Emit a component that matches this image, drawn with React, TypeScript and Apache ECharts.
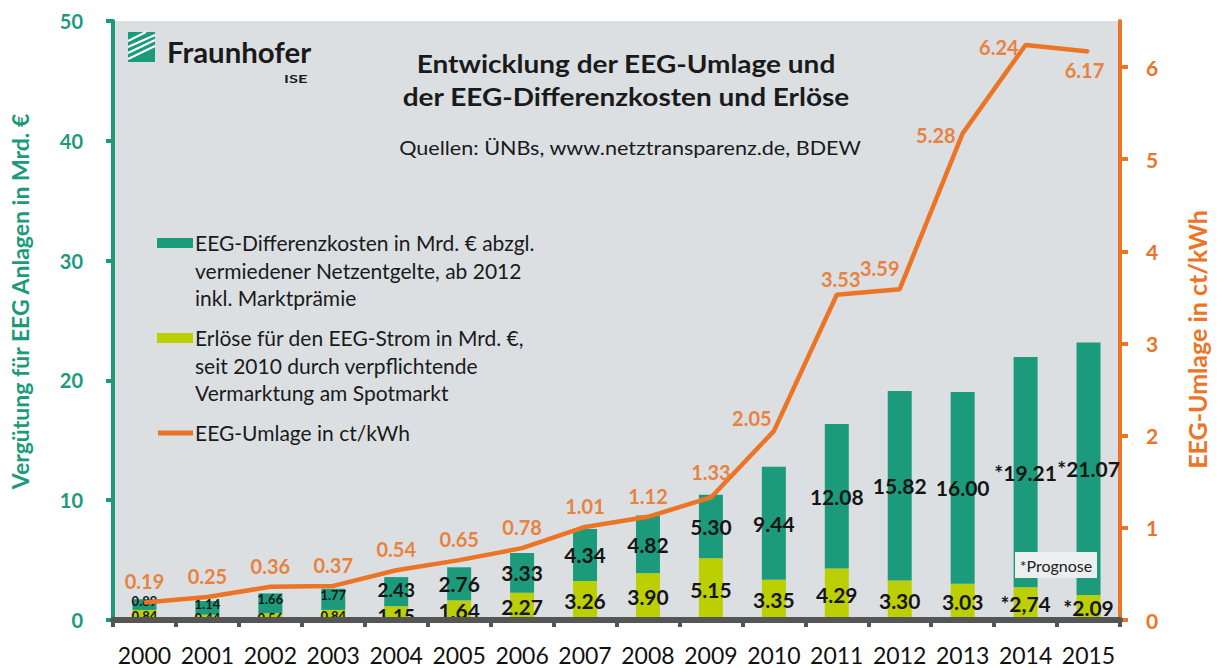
import React, { useEffect, useRef } from "react";
import * as echarts from "echarts";

const years = ["2000","2001","2002","2003","2004","2005","2006","2007","2008","2009","2010","2011","2012","2013","2014","2015"];
const diffKosten = [0.89,1.14,1.66,1.77,2.43,2.76,3.33,4.34,4.82,5.30,9.44,12.08,15.82,16.00,19.21,21.07];
const erloese = [0.84,0.44,0.56,0.84,1.15,1.64,2.27,3.26,3.90,5.15,3.35,4.29,3.30,3.03,2.74,2.09];
const umlage = [0.19,0.25,0.36,0.37,0.54,0.65,0.78,1.01,1.12,1.33,2.05,3.53,3.59,5.28,6.24,6.17];
const diffLabels = ["0.89","1.14","1.66","1.77","2.43","2.76","3.33","4.34","4.82","5.30","9.44","12.08","15.82","16.00","*19.21","*21.07"];
const erloeseLabels = ["0.84","0.44","0.56","0.84","1.15","1.64","2.27","3.26","3.90","5.15","3.35","4.29","3.30","3.03","*2,74","*2.09"];
const leftTicks = [0, 10, 20, 30, 40, 50];
const rightTicks = [0, 1, 2, 3, 4, 5, 6];

const TEAL = "#1b9b7b";
const LIME = "#bccf03";
const ORANGE = "#ec7424";
const ORANGE_LBL = "#e8823f";
const FONT = "Lato, 'Open Sans', sans-serif";

export default function App() {
  const ref = useRef<HTMLDivElement>(null);
  useEffect(() => {
    if (!ref.current) return;
    const chart = echarts.init(ref.current, null, { renderer: "svg" });
    const lineLabelPos = (i: number): any => {
      if (i === 9) return { position: "top", distance: 14 };
      if (i === 10) return { position: "top", distance: 2, offset: [-22, 0] };
      if (i === 11) return { position: "top", distance: 5, offset: [4, 0] };
      if (i === 13 || i === 14) return { position: "left", distance: 6, offset: [0, 2] };
      if (i === 15) return { position: "bottom", distance: 8, offset: [-4, 0] };
      if (i === 12) return { position: "top", distance: 10, offset: [-20, 0] };
      return { position: "top", distance: 10 };
    };
    const barFont = (i: number) => (i < 4 ? 13 : i === 4 ? 19 : 21);
    const option: any = {
      animation: false,
      textStyle: { fontFamily: FONT },
      grid: {
        left: 113, right: 96, top: 21, height: 599,
        show: true, backgroundColor: "#dcdfe2", borderWidth: 0,
      },
      xAxis: {
        type: "category",
        data: years,
        boundaryGap: true,
        axisLine: { show: true, lineStyle: { color: "#555555", width: 6 } },
        axisTick: { show: true, length: 7, interval: 0, lineStyle: { color: "#555555", width: 4 } },
        axisLabel: { color: "#111", fontSize: 23, fontFamily: FONT, margin: 23, interval: 0 },
        z: 5,
      },
      yAxis: [
        {
          type: "value", position: "left", min: 0, max: 50, interval: 10,
          name: "Vergütung für EEG Anlagen in Mrd. €",
          nameLocation: "middle", nameGap: 82, nameRotate: 90,
          nameTextStyle: { color: TEAL, fontSize: 23, fontWeight: "bold", fontFamily: FONT, padding: [0, 0, 0, 38] },
          axisLine: { show: true, lineStyle: { color: TEAL, width: 4 } },
          axisTick: { show: true, length: 7, lineStyle: { color: TEAL, width: 4 }, customValues: leftTicks },
          axisLabel: { color: TEAL, fontSize: 20, fontWeight: "bold", margin: 30, fontFamily: FONT, customValues: leftTicks },
          splitLine: { show: false },
        },
        {
          type: "value", position: "right", min: 0, max: 6.5, interval: 1,
          name: "EEG-Umlage in ct/kWh",
          nameLocation: "middle", nameGap: 64, nameRotate: 90,
          nameTextStyle: { color: ORANGE, fontSize: 25, fontWeight: "bold", fontFamily: FONT, padding: [0, 38, 0, 0] },
          axisLine: { show: true, lineStyle: { color: ORANGE, width: 4 } },
          axisTick: { show: true, length: 8, lineStyle: { color: ORANGE, width: 4 }, customValues: rightTicks },
          axisLabel: { color: ORANGE, fontSize: 21, fontWeight: "bold", margin: 26, fontFamily: FONT, customValues: rightTicks },
          splitLine: { show: false },
        },
      ],
      series: [
        {
          name: "Erlöse",
          type: "bar", stack: "eeg", yAxisIndex: 0, barWidth: 24,
          itemStyle: { color: LIME },
          data: erloese.map((v, i) => ({
            value: v,
            label: {
              show: true, position: "inside",
              formatter: () => erloeseLabels[i],
              color: "#151515", fontWeight: "bold", fontFamily: FONT,
              fontSize: barFont(i),
              offset: i < 4 ? [0, 1] : i === 4 ? [0, 2] : [0, 0],
            },
          })),
        },
        {
          name: "Differenzkosten",
          type: "bar", stack: "eeg", yAxisIndex: 0, barWidth: 24,
          itemStyle: { color: TEAL },
          data: diffKosten.map((v, i) => ({
            value: v,
            label: {
              show: true, position: "inside",
              formatter: () => diffLabels[i],
              color: "#151515", fontWeight: "bold", fontFamily: FONT,
              fontSize: barFont(i),
              offset: i < 4 ? [0, -4] : i === 4 ? [0, -2] : [0, 0],
            },
          })),
        },
        {
          name: "EEG-Umlage",
          type: "line", yAxisIndex: 1,
          symbol: "circle", symbolSize: 2, showSymbol: true,
          lineStyle: { color: ORANGE, width: 4.5 },
          itemStyle: { color: ORANGE },
          z: 4,
          data: umlage.map((v, i) => ({
            value: v,
            label: {
              show: true,
              formatter: () => v.toFixed(2),
              color: ORANGE_LBL, fontWeight: "bold", fontSize: 20, fontFamily: FONT,
              ...lineLabelPos(i),
            },
          })),
        },
      ],
      graphic: [
        // Fraunhofer logo
        { type: "rect", shape: { x: 128, y: 32, width: 27, height: 30 }, style: { fill: TEAL }, z: 10 },
        { type: "line", shape: { x1: 128, y1: 59, x2: 155, y2: 46 }, style: { stroke: "#fff", lineWidth: 2 }, z: 11 },
        { type: "line", shape: { x1: 128, y1: 53, x2: 155, y2: 40 }, style: { stroke: "#fff", lineWidth: 2 }, z: 11 },
        { type: "line", shape: { x1: 128, y1: 47, x2: 155, y2: 35 }, style: { stroke: "#fff", lineWidth: 2 }, z: 11 },
        { type: "line", shape: { x1: 128, y1: 41, x2: 146, y2: 32 }, style: { stroke: "#fff", lineWidth: 2 }, z: 11 },
        { type: "text", x: 167, y: 52, scaleX: 1.05, style: { text: "Fraunhofer", font: `bold 28px ${FONT}`, fill: "#1a1a1a", verticalAlign: "middle" }, z: 10 },
        { type: "text", x: 284, y: 79, scaleX: 1.5, style: { text: "ISE", font: `bold 11px ${FONT}`, fill: "#1a1a1a", verticalAlign: "middle" }, z: 10 },
        // Title
        { type: "text", x: 626, y: 64, scaleX: 1.12, style: { text: "Entwicklung der EEG-Umlage und", font: `bold 25px ${FONT}`, fill: "#1a1a1a", align: "center", verticalAlign: "middle" }, z: 10 },
        { type: "text", x: 626, y: 97, scaleX: 1.12, style: { text: "der EEG-Differenzkosten und Erlöse", font: `bold 25px ${FONT}`, fill: "#1a1a1a", align: "center", verticalAlign: "middle" }, z: 10 },
        { type: "text", x: 630, y: 147, scaleX: 1.08, style: { text: "Quellen: ÜNBs, www.netztransparenz.de, BDEW", font: `20px ${FONT}`, fill: "#1a1a1a", align: "center", verticalAlign: "middle" }, z: 10 },
        // Legend
        { type: "rect", shape: { x: 157, y: 238, width: 36, height: 10 }, style: { fill: TEAL }, z: 10 },
        { type: "text", x: 195, y: 229, style: { text: "EEG-Differenzkosten in Mrd. € abzgl.\nvermiedener Netzentgelte, ab 2012\ninkl. Marktprämie", font: `21px ${FONT}`, lineHeight: 27.5, fill: "#1a1a1a" }, z: 10 },
        { type: "rect", shape: { x: 157, y: 333, width: 36, height: 10 }, style: { fill: LIME }, z: 10 },
        { type: "text", x: 195, y: 324, style: { text: "Erlöse für den EEG-Strom in Mrd. €,\nseit 2010 durch verpflichtende\nVermarktung am Spotmarkt", font: `21px ${FONT}`, lineHeight: 27.5, fill: "#1a1a1a" }, z: 10 },
        { type: "line", shape: { x1: 158, y1: 433, x2: 193, y2: 433 }, style: { stroke: ORANGE, lineWidth: 5 }, z: 10 },
        { type: "text", x: 195, y: 419, style: { text: "EEG-Umlage in ct/kWh", font: `21px ${FONT}`, lineHeight: 27.5, fill: "#1a1a1a" }, z: 10 },
        // Prognose box
        { type: "rect", shape: { x: 1015, y: 552, width: 82, height: 26 }, style: { fill: "#eceeef" }, z: 20 },
        { type: "text", x: 1056, y: 565, style: { text: "*Prognose", font: `16px ${FONT}`, fill: "#222", align: "center", verticalAlign: "middle" }, z: 21 },
      ],
    };
    chart.setOption(option);
    return () => chart.dispose();
  }, []);
  return <div ref={ref} style={{ width: 1217, height: 668, position: "absolute", left: 0, top: 0 }} />;
}
